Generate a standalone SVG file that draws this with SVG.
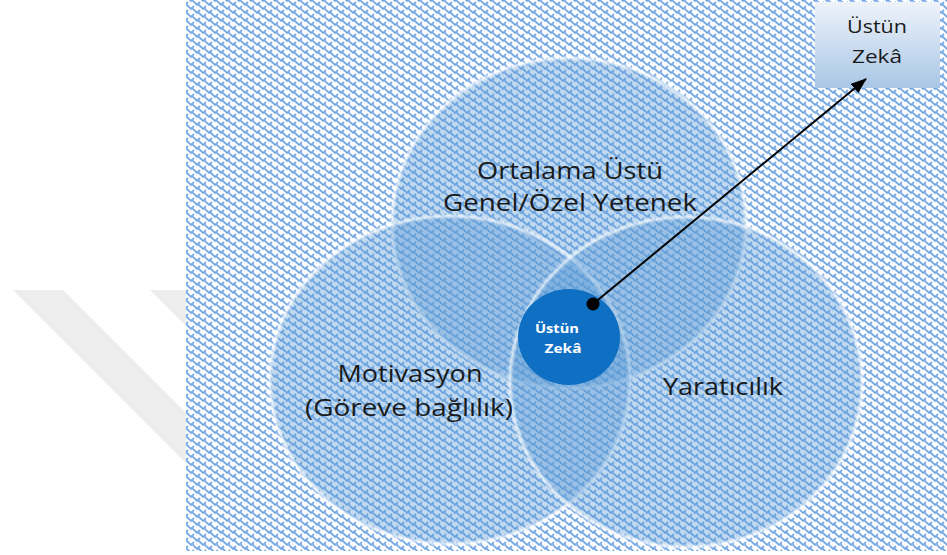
<svg xmlns="http://www.w3.org/2000/svg" width="947" height="555" viewBox="0 0 947 555">
<defs>
<pattern id="weave" width="12" height="8" patternUnits="userSpaceOnUse">
<rect width="12" height="8" fill="#ffffff"/>
<path d="M0,0 L5,5 L8,2 M12,0 L17,5 M0,8 L5,13 M12,8 L17,13 M6,4 L11,9 L14,6 M-6,4 L-1,9 L2,6 M6,-4 L11,1 L14,-2 M-6,-4 L-1,1 L2,-2" fill="none" stroke="#7aabe4" stroke-width="1.9"/>
</pattern>
<linearGradient id="boxg" x1="0" y1="0" x2="0" y2="1">
<stop offset="0" stop-color="#eef3fa"/>
<stop offset="1" stop-color="#a9c6e6"/>
</linearGradient>
<filter id="soft" x="-10%" y="-10%" width="120%" height="120%">
<feGaussianBlur stdDeviation="1.1"/>
</filter>
<marker id="arrow" markerWidth="16" markerHeight="12" refX="15" refY="6" orient="auto" markerUnits="userSpaceOnUse">
<path d="M0,0 L16,6 L0,12 z" fill="#000"/>
</marker>
<style>
.big{font-family:"Open Sans","Liberation Sans",sans-serif;font-size:23px;fill:#1a1a1a;text-anchor:middle}
.box{font-family:"Open Sans","Liberation Sans",sans-serif;font-size:19px;fill:#1a1a1a;text-anchor:middle}
.small{font-family:"Open Sans","Liberation Sans",sans-serif;font-size:11.5px;font-weight:bold;fill:#ffffff;text-anchor:middle}
.fill{fill:#5b9bd5;fill-opacity:0.38}
.edge{fill:none;stroke:#ffffff;stroke-width:2.6;stroke-opacity:0.85;filter:url(#soft)}
</style>
</defs>
<g id="watermark">
<polygon points="13,290 63,290 187,414 187,464" fill="#ededed"/>
<polygon points="150,290 187,290 187,327" fill="#ededed"/>
</g>
<rect id="background" x="186" y="0" width="761" height="551" fill="url(#weave)"/>
<g id="node-top">
<ellipse class="fill" cx="569" cy="223" rx="177" ry="165"/>
<ellipse class="edge" cx="569" cy="223" rx="177" ry="165"/>
</g>
<g id="node-left">
<ellipse class="fill" cx="450" cy="380" rx="180" ry="164"/>
<ellipse class="edge" cx="450" cy="380" rx="180" ry="164"/>
</g>
<g id="node-right">
<ellipse class="fill" cx="686" cy="382" rx="176" ry="165"/>
<ellipse class="edge" cx="686" cy="382" rx="176" ry="165"/>
</g>
<g id="labels">
<text class="big" x="570" y="179" textLength="186" lengthAdjust="spacingAndGlyphs">Ortalama Üstü</text>
<text class="big" x="570" y="211" textLength="254" lengthAdjust="spacingAndGlyphs">Genel/Özel Yetenek</text>
<text class="big" x="410" y="382" textLength="145" lengthAdjust="spacingAndGlyphs">Motivasyon</text>
<text class="big" x="409" y="416" textLength="208" lengthAdjust="spacingAndGlyphs">(Göreve bağlılık)</text>
<text class="big" x="723" y="395" textLength="120" lengthAdjust="spacingAndGlyphs">Yaratıcılık</text>
</g>
<g id="node-center">
<ellipse cx="569" cy="337" rx="51" ry="48" fill="#0f6fc3"/>
<text class="small" x="557" y="333" textLength="44" lengthAdjust="spacingAndGlyphs">Üstün</text>
<text class="small" x="563" y="353" textLength="37" lengthAdjust="spacingAndGlyphs">Zekâ</text>
</g>
<g id="node-box">
<rect x="815" y="2" width="125" height="86" fill="url(#boxg)"/>
<text class="box" x="877" y="33" textLength="60" lengthAdjust="spacingAndGlyphs">Üstün</text>
<text class="box" x="877" y="63" textLength="50" lengthAdjust="spacingAndGlyphs">Zekâ</text>
</g>
<g id="connectors">
<line x1="593" y1="304" x2="866" y2="79" stroke="#000" stroke-width="2" marker-end="url(#arrow)"/>
<circle cx="593" cy="304" r="6.5" fill="#000"/>
</g>
</svg>
